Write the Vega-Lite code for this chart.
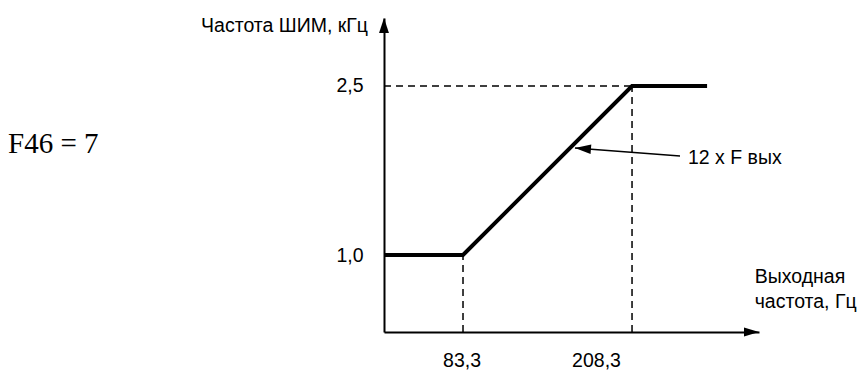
{
  "$schema": "https://vega.github.io/schema/vega-lite/v6.json",
  "width": 375,
  "height": 314,
  "autosize": {"type": "none"},
  "padding": {"left": 384, "top": 18, "right": 100, "bottom": 40},
  "background": "white",
  "config": {"view": {"stroke": null}},
  "datasets": {
    "curve": [
      {"x": 24.87, "y": 1.0},
      {"x": 83.3, "y": 1.0},
      {"x": 208.3, "y": 2.5},
      {"x": 263.8, "y": 2.5}
    ],
    "guides": [
      {"x": 24.87, "y": 2.5, "x2": 208.3, "y2": 2.5},
      {"x": 83.3, "y": 0.3166, "x2": 83.3, "y2": 1.0},
      {"x": 208.3, "y": 0.3166, "x2": 208.3, "y2": 2.5}
    ],
    "pointer": [
      {"x": 243.8, "y": 1.879, "x2": 166.1, "y2": 1.95}
    ],
    "pointerTip": [
      {"x": 166.1, "y": 1.95}
    ],
    "yTip": [
      {"x": 24.87, "y": 3.1035}
    ],
    "xTip": [
      {"x": 302.2, "y": 0.3166}
    ],
    "leftTexts": [
      {"x": 249.7, "y": 1.808, "label": "12 x F вых"},
      {"x": 299.0, "y": 0.7515, "label": "Выходная"},
      {"x": 299.0, "y": 0.530, "label": "частота, Гц"}
    ],
    "rightTexts": [
      {"x": 13.04, "y": 2.979, "label": "Частота ШИМ, кГц"}
    ],
    "serifTexts": [
      {"x": -253.2, "y": 1.905, "label": "F46 = 7"}
    ]
  },
  "encoding": {
    "x": {
      "field": "x",
      "type": "quantitative",
      "scale": {"domain": [24.87, 302.2], "nice": false, "zero": false},
      "axis": {
        "title": null,
        "values": [83.3, 208.3],
        "labelExpr": "replace(format(datum.value, '.1f'), '.', ',')",
        "grid": false,
        "ticks": false,
        "tickSize": 0,
        "domain": true,
        "domainColor": "black",
        "domainWidth": 2,
        "labelFont": "Liberation Sans",
        "labelFontSize": 19.5,
        "labelColor": "black",
        "labelPadding": 19,
        "labelFlush": false,
        "labelOverlap": false,
        "labelOffset": {"condition": {"test": "datum.value > 100", "value": -36}, "value": -1.5}
      }
    },
    "y": {
      "field": "y",
      "type": "quantitative",
      "scale": {"domain": [0.3166, 3.1035], "nice": false, "zero": false},
      "axis": {
        "title": null,
        "values": [1, 2.5],
        "labelExpr": "replace(format(datum.value, '.1f'), '.', ',')",
        "grid": false,
        "ticks": false,
        "tickSize": 0,
        "domain": true,
        "domainColor": "black",
        "domainWidth": 2,
        "labelFont": "Liberation Sans",
        "labelFontSize": 19.5,
        "labelColor": "black",
        "labelPadding": 21,
        "labelFlush": false,
        "labelOverlap": false
      }
    }
  },
  "layer": [
    {
      "data": {"name": "guides"},
      "mark": {"type": "rule", "color": "black", "strokeWidth": 1.5, "strokeDash": [7, 5]},
      "encoding": {"x2": {"field": "x2"}, "y2": {"field": "y2"}}
    },
    {
      "data": {"name": "curve"},
      "mark": {"type": "line", "color": "black", "strokeWidth": 4}
    },
    {
      "data": {"name": "pointer"},
      "mark": {"type": "rule", "color": "black", "strokeWidth": 1.5},
      "encoding": {"x2": {"field": "x2"}, "y2": {"field": "y2"}}
    },
    {
      "data": {"name": "pointerTip"},
      "mark": {"type": "point", "shape": "M0,0L1,-0.3L1,0.3Z", "size": 1024, "filled": true, "color": "black", "opacity": 1, "strokeWidth": 0, "angle": 4.4}
    },
    {
      "data": {"name": "yTip"},
      "mark": {"type": "point", "shape": "M0,0L-0.33,1L0.33,1Z", "size": 900, "filled": true, "color": "black", "opacity": 1, "strokeWidth": 0}
    },
    {
      "data": {"name": "xTip"},
      "mark": {"type": "point", "shape": "M0,0L-1,-0.3L-1,0.3Z", "size": 900, "filled": true, "color": "black", "opacity": 1, "strokeWidth": 0}
    },
    {
      "data": {"name": "leftTexts"},
      "mark": {"type": "text", "align": "left", "baseline": "alphabetic", "font": "Liberation Sans", "fontSize": 19.5, "color": "black"},
      "encoding": {"text": {"field": "label"}}
    },
    {
      "data": {"name": "rightTexts"},
      "mark": {"type": "text", "align": "right", "baseline": "alphabetic", "font": "Liberation Sans", "fontSize": 19.5, "color": "black"},
      "encoding": {"text": {"field": "label"}}
    },
    {
      "data": {"name": "serifTexts"},
      "mark": {"type": "text", "align": "left", "baseline": "alphabetic", "font": "Liberation Serif", "fontSize": 29, "color": "black"},
      "encoding": {"text": {"field": "label"}}
    }
  ]
}
